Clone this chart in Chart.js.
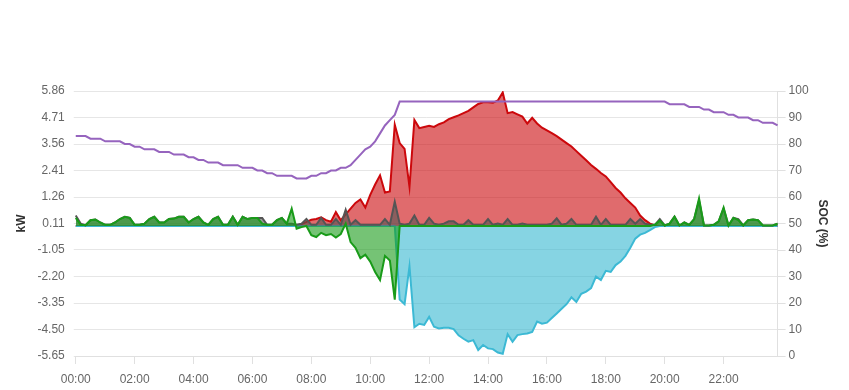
<!DOCTYPE html>
<html><head><meta charset="utf-8">
<script src="https://cdn.jsdelivr.net/npm/chart.js@4.4.1/dist/chart.umd.min.js"></script>
<style>html,body{margin:0;padding:0;background:#fff;}#wrap{width:849px;height:390px;position:relative;}</style>
</head><body><div id="wrap"><canvas id="c"></canvas></div>
<script>
// 10-minute categories 00:00 .. 23:50
const times = [];
for (let i = 0; i < 144; i++) {
  times.push(String(Math.floor(i / 6)).padStart(2, '0') + ':' + String((i % 6) * 10).padStart(2, '0'));
}
const xTickLabels = ['00:00','02:00','04:00','06:00','08:00','10:00','12:00','14:00','16:00','18:00','20:00','22:00'];

const socValues = [
  83,83,83,82,82,82,81,81,81,81,80,80,79,79,78,78,78,77,77,77,
  76,76,76,75,75,74,74,73,73,73,72,72,72,72,71,71,71,70,70,69,
  69,68,68,68,68,67,67,67,68,68,69,69,70,70,71,71,72,74,76,78,
  79,81,84,87,89,91,96,96,96,96,96,96,96,96,96,96,96,96,96,96,
  96,96,96,96,96,96,96,96,96,96,96,96,96,96,96,96,96,96,96,96,
  96,96,96,96,96,96,96,96,96,96,96,96,96,96,96,96,96,96,96,96,
  96,95,95,95,95,94,94,94,93,93,92,92,92,91,91,90,90,90,89,89,
  88,88,88,87
];
const batteryKw = [
  0.35,0.05,0.03,0.25,0.28,0.15,0.05,0.05,0.15,0.3,
  0.4,0.35,0.05,0.05,0.1,0.3,0.4,0.15,0.15,0.3,
  0.32,0.4,0.4,0.15,0.3,0.4,0.15,0.05,0.3,0.4,
  0.05,0.05,0.4,0.05,0.4,0.3,0.35,0.35,0.1,0.05,
  0.05,0.25,0.35,0.1,0.75,-0.12,-0.05,0,-0.4,-0.48,
  -0.3,-0.4,-0.35,-0.5,-0.35,0.1,-0.7,-0.95,-1.4,-1.25,
  -1.55,-2.0,-2.35,-1.3,-1.5,-3.2,0,0,0,0,
  0,0,0,0,0,0,0,0,0,0,
  0,0,0,0,0,0,0,0,0,0,
  0,0,0,0,0,0,0,0,0,0,
  0,0,0,0,0,0,0,0,0,0,
  0,0,0,0,0,0,0,0,
  0.05,0.23,0.02,0.1,0.4,0.02,0.15,0.05,0.3,1.2,
  0.02,0.02,0.05,0.2,0.8,0.02,0.35,0.25,0.02,0.25,
  0.28,0.25,0.02,0.02,0.02,0.1
];
const loadKw = [
  0.45,0.1,0.03,0.25,0.28,0.15,0.05,0.05,0.15,0.3,
  0.4,0.35,0.05,0.05,0.1,0.3,0.4,0.15,0.15,0.3,
  0.32,0.4,0.4,0.15,0.3,0.4,0.15,0.05,0.3,0.4,
  0.05,0.05,0.4,0.05,0.4,0.3,0.35,0.35,0.35,0.05,
  0.05,0.25,0.35,0.1,0.1,0.05,0.1,0.3,0.05,0.05,
  0.35,0.05,0.05,0.3,0.05,0.7,0.05,0.25,0.05,0.05,
  0.05,0.05,0.05,0.3,0.05,1.05,0.1,0.05,0.1,0.45,
  0.05,0.05,0.35,0.1,0.05,0.1,0.2,0.2,0.05,0.05,
  0.25,0.05,0.05,0.05,0.3,0.05,0.1,0.05,0.3,0.05,
  0.05,0.1,0.05,0.05,0.05,0.05,0.05,0.1,0.33,0.05,
  0.1,0.3,0.05,0.05,0.05,0.05,0.4,0.05,0.3,0.05,
  0.05,0.05,0.05,0.3,0.1,0.3,0.1,0.05,0.05,0.3,
  0.02,0.1,0.4,0.02,0.15,0.05,0.3,1.1,0.02,0.02,
  0.05,0.2,0.75,0.02,0.35,0.3,0.02,0.25,0.28,0.25,
  0.02,0.02,0.02,0.1
];
const pvKw = [
  0,0,0,0,0,0,0,0,0,0,0,0,0,0,0,0,0,0,0,0,
  0,0,0,0,0,0,0,0,0,0,0,0,0,0,0,0,0,0,0,0,
  0,0,0,0,0,0,0.08,0.18,0.27,0.3,
  0.37,0.25,0.18,0.6,0.25,0.5,0.75,1.0,1.15,0.8,
  1.35,1.8,2.2,1.45,1.5,4.4,3.6,3.35,1.7,4.6,
  4.25,4.3,4.35,4.3,4.42,4.5,4.64,4.72,4.8,4.9,
  5.0,5.15,5.3,5.37,5.37,5.35,5.45,5.8,4.9,4.95,
  4.85,4.75,4.45,4.7,4.45,4.27,4.15,4.03,3.9,3.75,
  3.6,3.45,3.25,3.05,2.85,2.65,2.48,2.3,2.15,1.9,
  1.65,1.45,1.2,1.0,0.8,0.45,0.25,0.1,0.02,0,
  0,0,0,0,0,0,0,0,0,0,0,0,0,0,0,0,0,0,0,0,0,0,0,0
];
const gridKw = [
  0,0,0,0,0,0,0,0,0,0,0,0,0,0,0,0,0,0,0,0,0,0,
  0,0,0,0,0,0,0,0,0,0,0,0,0,0,0,0,0,0,0,0,0,0,
  0,0,0,0,0,0,0,0,0,0,0,0,0,0,0,0,0,0,0,0,0,0,
  -3.2,-3.4,-1.75,-4.4,
  -4.25,-4.3,-3.95,-4.38,-4.45,-4.42,-4.42,-4.48,-4.75,-4.9,
  -5.03,-4.96,-5.39,-5.17,-5.32,-5.35,-5.5,-5.55,-4.7,-5.03,
  -4.74,-4.7,-4.67,-4.6,-4.15,-4.25,-4.2,-4.0,-3.8,-3.6,
  -3.4,-3.1,-3.3,-2.95,-2.85,-2.7,-2.2,-2.35,-1.95,-2.0,
  -1.7,-1.55,-1.3,-0.95,-0.55,-0.38,-0.3,-0.18,-0.05,0,
  0,0,0,0,0,0,0,0,0,0,0,0,0,0,0,0,0,0,0,0,0,0,0,0
];

const FONT = "'Liberation Sans', Arial, sans-serif";
const ctx = document.getElementById('c');
new Chart(ctx, {
  type: 'line',
  data: {
    labels: times,
    datasets: [
      { label: 'SOC', data: socValues, yAxisID: 'y1', borderColor: 'rgb(150,100,190)', backgroundColor: 'rgb(150,100,190)', borderWidth: 2, fill: false },
      { label: 'Battery', data: batteryKw, yAxisID: 'y', borderColor: 'rgb(25,155,25)', backgroundColor: 'rgba(25,155,25,0.6)', borderWidth: 2, fill: 'origin' },
      { label: 'Load', data: loadKw, yAxisID: 'y', borderColor: 'rgb(85,85,85)', backgroundColor: 'rgba(85,85,85,0.6)', borderWidth: 2, fill: 'origin' },
      { label: 'Grid', data: gridKw, yAxisID: 'y', borderColor: 'rgb(60,185,212)', backgroundColor: 'rgba(54,183,209,0.6)', borderWidth: 2, fill: 'origin' },
      { label: 'PV', data: pvKw, yAxisID: 'y', borderColor: 'rgb(204,8,12)', backgroundColor: 'rgba(204,8,12,0.6)', borderWidth: 2, fill: 'origin' }
    ]
  },
  options: {
    responsive: true,
    maintainAspectRatio: false,
    animation: false,
    layout: { padding: { top: 91, left: 8, right: 15, bottom: 3 } },
    elements: { point: { radius: 0, hoverRadius: 0 }, line: { tension: 0 } },
    plugins: { legend: { display: false }, tooltip: { enabled: false } },
    scales: {
      x: {
        type: 'category',
        afterFit: function (scale) { scale.height = 31; },
        grid: { drawOnChartArea: false, tickLength: 8, color: '#e0e0e0' },
        border: { display: true, color: '#e0e0e0' },
        ticks: {
          autoSkip: false, maxRotation: 0, minRotation: 0, padding: 8,
          color: '#666', font: { family: FONT, size: 12 },
          callback: function (val, idx) { const l = times[idx]; return xTickLabels.includes(l) ? l : null; }
        }
      },
      y: {
        position: 'left',
        min: -5.65, max: 5.862,
        grid: { color: '#e6e6e6', tickLength: 2 },
        border: { display: false },
        ticks: { count: 11, padding: 9, color: '#666', font: { family: FONT, size: 12 }, callback: v => v.toFixed(2) },
        title: { display: true, text: 'kW', color: '#333', padding: { top: 6, bottom: 0 }, font: { family: FONT, size: 12, weight: 'bold' } }
      },
      y1: {
        position: 'right',
        min: 0, max: 100,
        grid: { drawOnChartArea: false, tickLength: 8, color: '#e0e0e0' },
        border: { display: true, color: '#e0e0e0' },
        ticks: { stepSize: 10, padding: 3, color: '#666', font: { family: FONT, size: 12 } },
        title: { display: true, text: 'SOC (%)', color: '#333', font: { family: FONT, size: 12, weight: 'bold' } }
      }
    }
  }
});
</script></body></html>
